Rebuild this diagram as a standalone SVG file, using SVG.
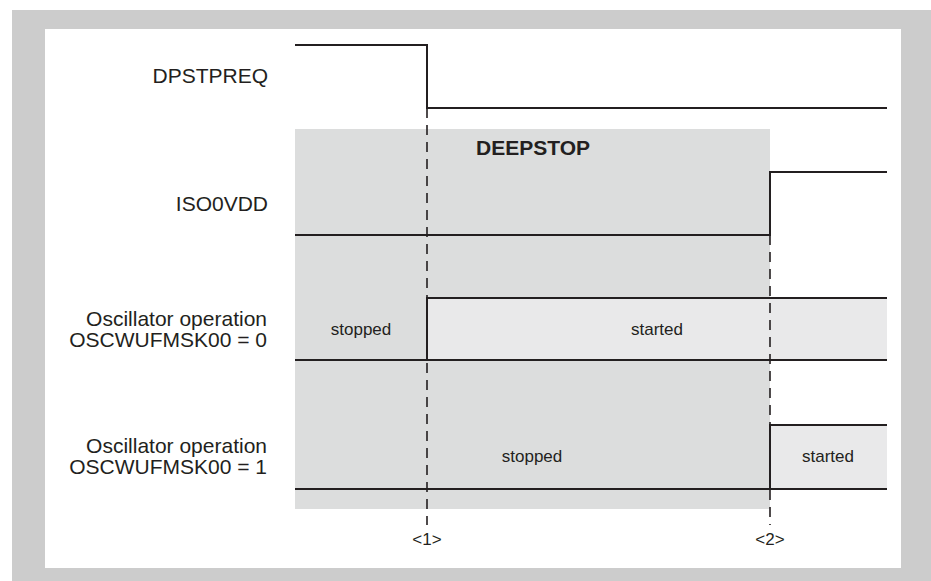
<svg xmlns="http://www.w3.org/2000/svg" width="931" height="581" viewBox="0 0 931 581">
<style>
.lbl{font-family:"Liberation Sans",Arial,sans-serif;font-size:21px;fill:#231f20;text-anchor:end}
.st{font-family:"Liberation Sans",Arial,sans-serif;font-size:17px;fill:#231f20;text-anchor:middle}
.sig{fill:none;stroke:#231f20;stroke-width:2}
.dash{fill:none;stroke:#231f20;stroke-width:1.6;stroke-dasharray:10 7}
</style>
<rect x="12" y="10" width="919" height="571" fill="#cccccc"/>
<rect x="45" y="29" width="856" height="539" fill="#ffffff"/>
<g id="deepstop">
<rect x="295" y="129" width="475" height="380" fill="#dcdddd"/>
<text x="533" y="155" style="font-family:'Liberation Sans',Arial,sans-serif;font-size:21px;font-weight:bold;fill:#231f20;text-anchor:middle">DEEPSTOP</text>
</g>
<g id="dpstpreq">
<text class="lbl" x="268" y="83">DPSTPREQ</text>
<path class="sig" d="M295 45H427V108H887"/>
</g>
<g id="iso0vdd">
<text class="lbl" x="268" y="211">ISO0VDD</text>
<path class="sig" d="M295 235H770V172H887"/>
</g>
<g id="osc0">
<rect x="427" y="298" width="460" height="62" fill="#e9e9ea"/>
<text class="lbl" x="267" y="326">Oscillator operation</text>
<text class="lbl" x="267" y="347">OSCWUFMSK00 = 0</text>
<path class="sig" d="M295 360H887M427 360V298H887"/>
<text class="st" x="361" y="335">stopped</text>
<text class="st" x="657" y="335">started</text>
</g>
<g id="osc1">
<rect x="770" y="425" width="117" height="64" fill="#e9e9ea"/>
<text class="lbl" x="267" y="453">Oscillator operation</text>
<text class="lbl" x="267" y="474">OSCWUFMSK00 = 1</text>
<path class="sig" d="M295 489H887M770 489V425H887"/>
<text class="st" x="532" y="462">stopped</text>
<text class="st" x="828" y="462">started</text>
</g>
<g id="connectors">
<path class="dash" d="M427 108V525"/>
<path class="dash" d="M770 235V525"/>
</g>
<g id="markers">
<text class="st" x="427" y="545">&lt;1&gt;</text>
<text class="st" x="770" y="545">&lt;2&gt;</text>
</g>
</svg>
